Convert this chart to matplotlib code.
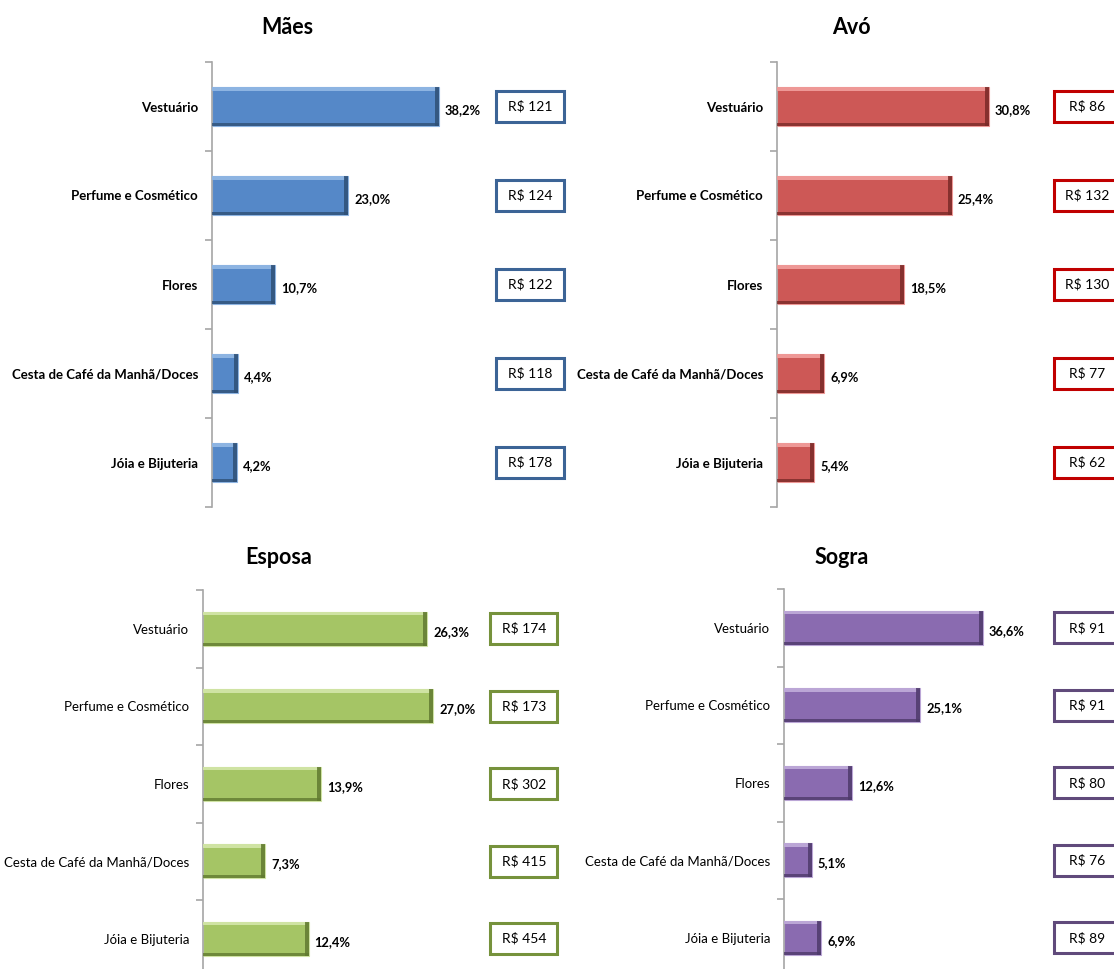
import numpy as np
import matplotlib
matplotlib.use('Agg')
import matplotlib.pyplot as plt
from matplotlib.patches import Rectangle
from matplotlib.transforms import blended_transform_factory

plt.rcParams['font.family'] = ['Lato', 'DejaVu Sans']

categorias = ['Vestuário', 'Perfume e Cosmético', 'Flores',
              'Cesta de Café da Manhã/Doces', 'Jóia e Bijuteria']

maes_pct = [38.2, 23.0, 10.7, 4.4, 4.2]
maes_valor = [121, 124, 122, 118, 178]
avo_pct = [30.8, 25.4, 18.5, 6.9, 5.4]
avo_valor = [86, 132, 130, 77, 62]
esposa_pct = [26.3, 27.0, 13.9, 7.3, 12.4]
esposa_valor = [174, 173, 302, 415, 454]
sogra_pct = [36.6, 25.1, 12.6, 5.1, 6.9]
sogra_valor = [91, 91, 80, 76, 89]

W, H = 1114, 969
fig = plt.figure(figsize=(W / 100, H / 100), dpi=100)

# layout in pixels: axis x, top y, band height, px per %, title pos, box centre x, bold labels
paineis = [
    ('Mães', maes_pct, maes_valor, 212, 62, 89, 5.93, (287, 28), 530, True,
     '#5588C8', '#2F5076', '#8DB4E2', '#3C6496'),
    ('Avó', avo_pct, avo_valor, 777, 62, 89, 6.88, (851, 28), 1087, True,
     '#CD5856', '#7A2A28', '#EE9896', '#C00000'),
    ('Esposa', esposa_pct, esposa_valor, 203, 590, 77.5, 8.52, (279, 558), 524, False,
     '#A5C565', '#617A30', '#CFE3A3', '#76923C'),
    ('Sogra', sogra_pct, sogra_valor, 784, 589, 77.5, 5.43, (842, 557), 1087, False,
     '#8A6BB0', '#4E3A6B', '#BBA6D6', '#604A7B'),
]

ax_w = 280
for (titulo, pct, valor, x0, top, band, scale, tpos, bx, negrito,
     cor, borda, brilho, cor_caixa) in paineis:
    n = len(categorias)
    ax = fig.add_axes([x0 / W, 1 - (top + band * n) / H, ax_w / W, band * n / H])
    y = np.arange(n)
    h = 0.44
    pct_a = np.array(pct)
    ax.barh(y, pct, height=h, color=cor, edgecolor=brilho, linewidth=0.8, zorder=2)
    # bevel: light top, dark bottom and right edge
    ax.barh(y - h / 2, pct_a - 3 / scale, height=0.045, align='edge', color=brilho,
            linewidth=0, zorder=3)
    ax.barh(y + h / 2 - 0.04, pct, height=0.04, align='edge', color=borda,
            alpha=0.8, linewidth=0, zorder=3)
    ax.barh(y, np.full(n, 4 / scale), left=pct_a - 4 / scale, height=h,
            color=borda, alpha=0.85, linewidth=0, zorder=4)
    ax.set_xlim(0, ax_w / scale)
    ax.set_ylim(n - 0.5, -0.5)

    for s in ['top', 'right', 'bottom']:
        ax.spines[s].set_visible(False)
    ax.spines['left'].set_color('#A6A6A6')
    ax.spines['left'].set_linewidth(1.2)
    ax.set_xticks([])
    ax.set_yticks(np.arange(n + 1) - 0.5)
    ax.set_yticklabels([])
    ax.set_yticks(y, minor=True)
    ax.set_yticklabels(categorias, minor=True, fontsize=9.5,
                       fontweight='bold' if negrito else 'normal')
    ax.tick_params(axis='y', which='major', length=5, color='#A6A6A6', width=1.2)
    ax.tick_params(axis='y', which='minor', length=0, pad=10)

    for yi, p in zip(y, pct):
        ax.text(p + 6 / scale, yi + 0.04, ('%.1f%%' % p).replace('.', ','),
                va='center', ha='left', fontsize=9.3, fontweight='bold', zorder=4)

    tr = blended_transform_factory(fig.transFigure, ax.transData)
    bw, bh = 67 / W, 31 / band
    for yi, v in zip(y, valor):
        r = Rectangle((bx / W - bw / 2, yi - bh / 2), bw, bh, transform=tr,
                      facecolor='white', edgecolor=cor_caixa, linewidth=2.2,
                      clip_on=False, zorder=5)
        fig.add_artist(r)
        fig.text(bx / W, yi, 'R$ %d' % v, transform=tr, ha='center', va='center',
                 fontsize=10, zorder=6)

    fig.text(tpos[0] / W, 1 - tpos[1] / H, titulo, ha='center', va='center',
             fontsize=15.5, fontweight='bold')

plt.savefig('out.png', dpi=100)
